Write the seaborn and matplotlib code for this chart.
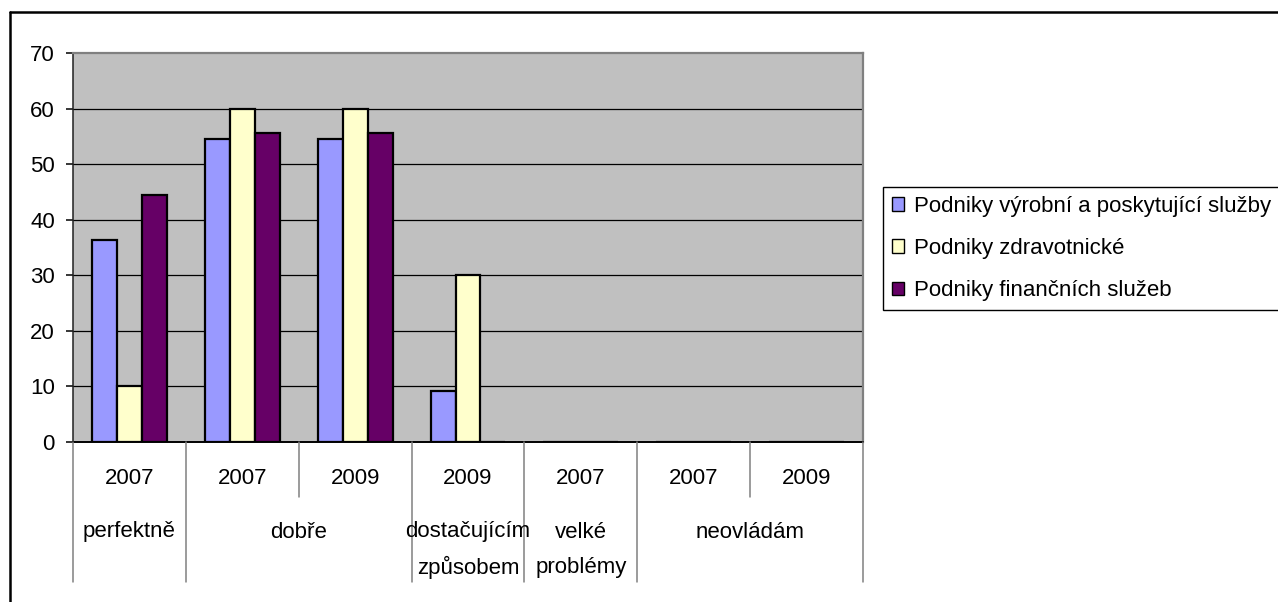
import matplotlib
matplotlib.use("Agg")
import matplotlib.pyplot as plt
from matplotlib.lines import Line2D
from matplotlib.patches import Patch
import matplotlib.transforms as mtransforms
import pandas as pd
import seaborn as sns

# --- data -------------------------------------------------------------
roky = ["2007", "2007", "2009", "2009", "2007", "2007", "2009"]
skupiny = ["perfektně", "dobře", "dostačujícím\nzpůsobem", "velké\nproblémy", "neovládám"]
skupiny_rozsah = [(0, 0), (1, 2), (3, 3), (4, 4), (5, 6)]  # first/last category index of each group

podniky = [
    "Podniky výrobní a poskytující služby",
    "Podniky zdravotnické",
    "Podniky finančních služeb",
]
vyrobni = [36.4, 54.5, 54.5, 9.1, 0, 0, 0]
zdravotnicke = [10.0, 60.0, 60.0, 30.0, 0, 0, 0]
financni = [44.4, 55.6, 55.6, 0, 0, 0, 0]
barvy = ["#9999FF", "#FFFFCC", "#660066"]

kategorie = [f"k{i}" for i in range(len(roky))]
df = pd.DataFrame({
    "kat": kategorie * 3,
    "podnik": [podniky[0]] * 7 + [podniky[1]] * 7 + [podniky[2]] * 7,
    "hodnota": vyrobni + zdravotnicke + financni,
})

# --- figure -----------------------------------------------------------
sns.set_theme(style="white")
plt.rcParams["font.family"] = ["Liberation Sans", "DejaVu Sans"]
plt.rcParams["text.color"] = "black"
plt.rcParams["legend.labelcolor"] = "black"
FS = 16

W, H = 1278, 602
fig = plt.figure(figsize=(W / 100, H / 100), dpi=100)
fig.patch.set_facecolor("white")

x0, x1, y_top, y_bot = 73, 863, 53, 442
ax = fig.add_axes([x0 / W, 1 - y_bot / H, (x1 - x0) / W, (y_bot - y_top) / H])
ax.set_facecolor("#C0C0C0")

sns.barplot(
    data=df, x="kat", y="hodnota", hue="podnik",
    order=kategorie, hue_order=podniky, palette=barvy, saturation=1,
    width=0.664, edgecolor="black", linewidth=1.6,
    legend=False, ax=ax, zorder=3,
)

ax.set_ylim(0, 70)
ax.set_xlim(-0.5, len(kategorie) - 0.5)
ax.set_yticks(range(0, 71, 10))
ax.set_yticklabels([str(v) for v in range(0, 71, 10)], fontsize=FS, color="black")
ax.tick_params(axis="y", direction="out", length=5, width=1.1, color="black", pad=8, left=True)
ax.set_xticks([])
ax.set_xlabel("")
ax.set_ylabel("")

for v in range(10, 70, 10):
    ax.axhline(v, color="black", linewidth=0.9, zorder=1)

for side in ["top", "right"]:
    ax.spines[side].set_color("#808080")
    ax.spines[side].set_linewidth(1.6)
ax.spines["left"].set_color("#202020")
ax.spines["left"].set_linewidth(1.1)
ax.spines["bottom"].set_color("black")
ax.spines["bottom"].set_linewidth(1.4)
ax.spines["bottom"].set_zorder(5)

# --- two-level category axis ------------------------------------------
trans = mtransforms.blended_transform_factory(ax.transData, fig.transFigure)


def fy(py):
    return 1 - py / H


y_axis0 = fy(y_bot)
kratke = {1.5, 5.5}
for b in [i - 0.5 for i in range(len(kategorie) + 1)]:
    dolni = fy(497) if b in kratke else fy(582)
    fig.add_artist(Line2D([b, b], [y_axis0, dolni], transform=trans,
                          color="#808080", linewidth=1.1))

for i, rok in enumerate(roky):
    fig.text(i, fy(478), rok, transform=trans, ha="center", va="center",
             fontsize=FS, color="black")

for nazev, (a, b) in zip(skupiny, skupiny_rozsah):
    stred = (a + b) / 2
    for j, radek in enumerate(nazev.split("\n")):
        fig.text(stred, fy(532 + 35 * j), radek, transform=trans,
                 ha="center", va="center", fontsize=FS, color="black")

# --- legend -----------------------------------------------------------
handles = [Patch(facecolor=c, edgecolor="black", linewidth=1.0) for c in barvy]
leg = fig.legend(
    handles, podniky, loc="upper left",
    bbox_to_anchor=(883 / W, fy(187)), bbox_transform=fig.transFigure,
    fontsize=FS, frameon=True, fancybox=False, framealpha=1,
    edgecolor="black", borderaxespad=0, borderpad=0.4,
    handlelength=0.55, handleheight=0.55, handletextpad=0.45,
    labelspacing=0.95, labelcolor="black",
)
leg.get_frame().set_linewidth(1.0)

# --- outer chart border -----------------------------------------------
fig.add_artist(Line2D([10 / W, 1.0], [fy(12), fy(12)], transform=fig.transFigure,
                      color="black", linewidth=1.8))
fig.add_artist(Line2D([10 / W, 10 / W], [fy(12), 0.0], transform=fig.transFigure,
                      color="black", linewidth=1.8))

fig.savefig("out.png", dpi=100)
